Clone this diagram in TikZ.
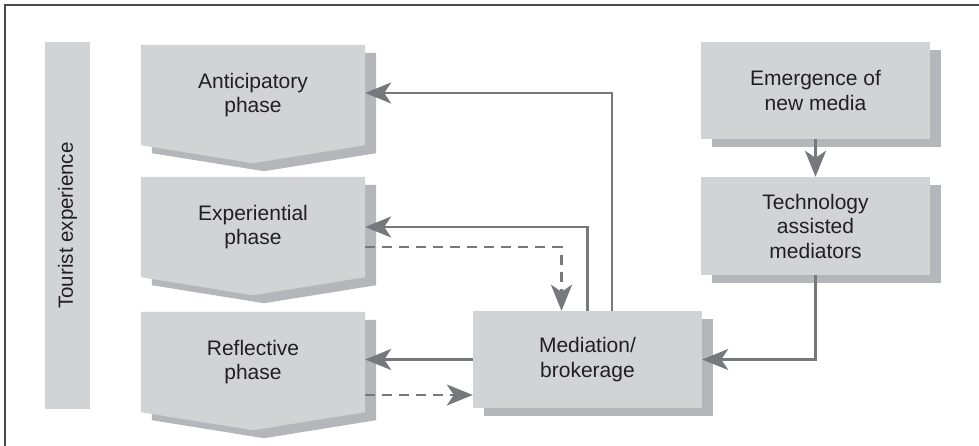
\documentclass[tikz,border=0pt]{standalone}
\usepackage{fontspec}
\setmainfont{Liberation Sans}
\usetikzlibrary{arrows.meta,calc,shadows}
\pgfdeclarelayer{bg}
\pgfsetlayers{bg,main}

\definecolor{boxfill}{HTML}{D2D3D5}
\definecolor{boxshade}{HTML}{B5B6B9}
\definecolor{linkgray}{HTML}{77787B}
\definecolor{inkgray}{HTML}{231F20}
\definecolor{framegray}{HTML}{4A4A4A}

\tikzset{
  basebox/.style={inner sep=0pt, align=center, text=inkgray,
    font=\fontsize{21}{24.5}\selectfont},
  rectbox/.style={basebox, fill=boxfill, minimum width=229pt, minimum height=97pt,
    drop shadow={shadow xshift=11pt, shadow yshift=-8pt, fill=boxshade, opacity=1}},
  phasebox/.style={basebox, minimum width=224pt, minimum height=100pt},
  link/.style={draw=linkgray, line width=2.4pt,
    -{Stealth[length=26pt, width=21pt, inset=7pt]}},
  dashlink/.style={link, line width=2.6pt, dash pattern=on 10pt off 7pt},
}

\begin{document}
\begin{tikzpicture}[x=1pt, y=-1pt]
  \useasboundingbox (0,0) rectangle (979,446);

  % outer frame (top and left edges)
  \draw[framegray, line width=1.8pt] (4.7,446) -- (4.7,4.7) -- (979,4.7);

  % side bar
  \node[basebox, fill=boxfill, minimum width=367pt, minimum height=45pt, rotate=90,
        font=\fontsize{20.5}{24}\selectfont] (tour) at (67.5,225.5) {Tourist experience};

  % phase boxes (pointed downward)
  \node[phasebox] (ant) at (253,95)  {Anticipatory\\phase};
  \node[phasebox] (exp) at (253,227) {Experiential\\phase};
  \node[phasebox] (ref) at (253,362) {Reflective\\phase};

  \begin{pgfonlayer}{bg}
    \foreach \p in {ant,exp,ref}{
      \fill[boxshade] ($(\p.north west)+(11,8)$) -- ($(\p.north east)+(11,8)$)
        -- ($(\p.south east)+(11,8)$) -- ($(\p.south)+(11,26)$)
        -- ($(\p.south west)+(11,8)$) -- cycle;
      \fill[boxfill] (\p.north west) -- (\p.north east) -- (\p.south east)
        -- ($(\p.south)+(0,18)$) -- (\p.south west) -- cycle;
    }
  \end{pgfonlayer}

  % right-hand boxes
  \node[rectbox] (med)  at (587.5,359.5) {Mediation/\\brokerage};
  \node[rectbox] (em)   at (815.5,90.5)  {Emergence of\\new media};
  \node[rectbox, minimum height=98pt] (tech) at (815.5,226) {Technology\\assisted\\mediators};

  % connector end points
  \coordinate (refout) at ($(ref.east)+(0,33)$);
  \coordinate (medin) at (refout -| med.west);

  % connectors
  \draw[link] ($(med.north)+(24.5,0)$) |- ($(ant.east)+(0,-2)$);
  \draw[link] (med.north) |- (exp.east);
  \draw[dashlink] ($(exp.east)+(0,20)$) -| ($(med.north)+(-26,0)$);
  \draw[link, line width=3.2pt] (med.west) -- (med.west -| ref.east);
  \draw[dashlink] (refout) -- (medin);
  \draw[link] (em.south) -- (tech.north);
  \draw[link] (tech.south) |- (med.east);
\end{tikzpicture}
\end{document}
